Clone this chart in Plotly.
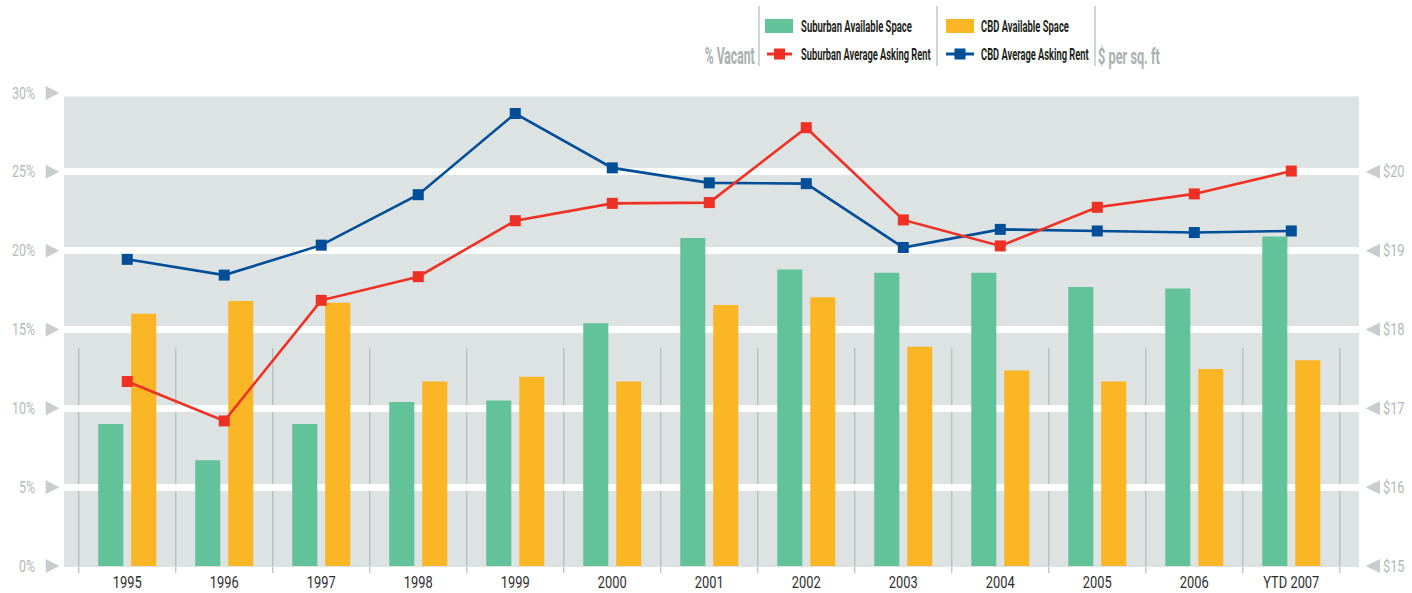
import plotly.graph_objects as go

# ---------------- data ----------------
years = ["1995", "1996", "1997", "1998", "1999", "2000", "2001",
         "2002", "2003", "2004", "2005", "2006", "YTD 2007"]
suburban_space = [9.0, 6.7, 9.0, 10.4, 10.5, 15.4, 20.8, 18.8, 18.6, 18.6, 17.7, 17.6, 20.9]
cbd_space = [16.0, 16.8, 16.7, 11.7, 12.0, 11.7, 16.55, 17.05, 13.9, 12.4, 11.7, 12.5, 13.05]
suburban_rent = [17.34, 16.84, 18.37, 18.67, 19.38, 19.60, 19.61, 20.56, 19.39, 19.06, 19.55, 19.72, 20.01]
cbd_rent = [18.89, 18.69, 19.07, 19.71, 20.74, 20.05, 19.86, 19.85, 19.04, 19.27, 19.25, 19.23, 19.25]

pct_ticks = [0, 5, 10, 15, 20, 25, 30]
pct_labels = ["0%", "5%", "10%", "15%", "20%", "25%", "30%"]
rent_ticks = [15, 16, 17, 18, 19, 20]
rent_labels = ["$15", "$16", "$17", "$18", "$19", "$20"]

series_names = ["Suburban Available Space", "CBD Available Space",
                "Suburban Average Asking Rent", "CBD Average Asking Rent"]

# ---------------- style ----------------
GREEN = "#62C39A"
ORANGE = "#FBB626"
RED = "#EE3124"
BLUE = "#004E98"
BAND = "#DDE2E2"
TICKGRAY = "#B2BAB9"
ARROW = "#C8CECD"
SEP = "#B3BAB9"
FONT = "Roboto, 'Liberation Sans', sans-serif"

W, H = 1412, 593
L, R, T, B = 64, 53, 93, 27
PW, PH = W - L - R, H - T - B
PCT_MAX = 30
RENT_MIN, RENT_MAX = 15, 21


def px(x):
    return (x - L) / PW


def py(y):
    return (H - B - y) / PH


fig = go.Figure()
fig.add_trace(go.Bar(x=years, y=suburban_space, name=series_names[0],
                     marker=dict(color=GREEN, line=dict(width=0))))
fig.add_trace(go.Bar(x=years, y=cbd_space, name=series_names[1],
                     marker=dict(color=ORANGE, line=dict(width=0))))
fig.add_trace(go.Scatter(x=years, y=cbd_rent, name=series_names[3], yaxis="y2",
                         mode="lines+markers", line=dict(color=BLUE, width=2.6),
                         marker=dict(symbol="square", size=11, color=BLUE)))
fig.add_trace(go.Scatter(x=years, y=suburban_rent, name=series_names[2], yaxis="y2",
                         mode="lines+markers", line=dict(color=RED, width=2.6),
                         marker=dict(symbol="square", size=11, color=RED)))

shapes = []
# white band separator at the top tick (grid line at the range edge)
shapes.append(dict(type="line", xref="paper", yref="y", x0=0, x1=1, y0=PCT_MAX, y1=PCT_MAX,
                   line=dict(color="white", width=7), layer="between"))
# category separators
for k in range(len(years) + 1):
    shapes.append(dict(type="line", xref="x", yref="paper", x0=k - 0.5, x1=k - 0.5,
                       y0=py(573), y1=py(348), line=dict(color=SEP, width=1.2),
                       layer="between"))
# left tick arrows
for v in pct_ticks:
    yc = v / PCT_MAX
    h = 7 / PH
    shapes.append(dict(type="path", xref="paper", yref="paper",
                       path=f"M {px(45.7)},{yc - h} L {px(59.3)},{yc} L {px(45.7)},{yc + h} Z",
                       fillcolor=ARROW, line=dict(width=0)))
# right tick arrows
for v in rent_ticks:
    yc = (v - RENT_MIN) / (RENT_MAX - RENT_MIN)
    h = 7 / PH
    shapes.append(dict(type="path", xref="paper", yref="paper",
                       path=f"M {px(1380)},{yc - h} L {px(1365.7)},{yc} L {px(1380)},{yc + h} Z",
                       fillcolor=ARROW, line=dict(width=0)))

# custom legend
for xs in (759, 937, 1095):
    shapes.append(dict(type="line", xref="paper", yref="paper", x0=px(xs), x1=px(xs),
                       y0=py(66), y1=py(6), line=dict(color=SEP, width=1.2)))
shapes.append(dict(type="rect", xref="paper", yref="paper", x0=px(765), x1=px(793),
                   y0=py(33), y1=py(19), fillcolor=GREEN, line=dict(width=0)))
shapes.append(dict(type="rect", xref="paper", yref="paper", x0=px(946), x1=px(974),
                   y0=py(33), y1=py(19), fillcolor=ORANGE, line=dict(width=0)))
for (x0, x1, col) in ((767, 792, RED), (946, 974, BLUE)):
    shapes.append(dict(type="line", xref="paper", yref="paper", x0=px(x0), x1=px(x1),
                       y0=py(54), y1=py(54), line=dict(color=col, width=3)))
    xc = (x0 + x1) / 2
    shapes.append(dict(type="rect", xref="paper", yref="paper", x0=px(xc - 5.5), x1=px(xc + 5.5),
                       y0=py(59.5), y1=py(48.5), fillcolor=col, line=dict(width=0)))

annotations = []
for (name, x, y) in ((series_names[0], 799, 27), (series_names[2], 799, 55),
                     (series_names[1], 979, 27), (series_names[3], 979, 55)):
    annotations.append(dict(xref="paper", yref="paper", x=px(x), y=py(y), text=name,
                            showarrow=False, xanchor="left", yanchor="middle",
                            font=dict(family=FONT, size=16.5, weight="bold", color="#231F20")))
annotations.append(dict(xref="paper", yref="paper", x=px(757), y=py(56), text="% Vacant",
                        showarrow=False, xanchor="right", yanchor="middle",
                        font=dict(family=FONT, size=23, weight="bold", color="#A9B1B0")))
annotations.append(dict(xref="paper", yref="paper", x=px(1096), y=py(56), text="$ per sq. ft",
                        showarrow=False, xanchor="left", yanchor="middle",
                        font=dict(family=FONT, size=23, weight="bold", color="#A9B1B0")))

fig.update_layout(
    width=W, height=H,
    margin=dict(l=L, r=R, t=T, b=B, pad=0),
    paper_bgcolor="white", plot_bgcolor=BAND,
    barmode="group", bargap=0.32, bargroupgap=0.24,
    showlegend=False,
    font=dict(family=FONT),
    shapes=shapes, annotations=annotations,
    xaxis=dict(type="category", range=[-0.652, 12.698], showgrid=False, zeroline=False,
               showline=False, ticks="", ticklabelstandoff=5, automargin=False,
               tickfont=dict(family=FONT, size=16.5, color="#2E2E2E")),
    yaxis=dict(range=[0, PCT_MAX], tickvals=pct_ticks, ticktext=pct_labels,
               showgrid=True, gridcolor="white", gridwidth=7,
               zeroline=True, zerolinecolor=BAND, zerolinewidth=1,
               showline=False, ticks="", ticklabelstandoff=28, automargin=False,
               tickfont=dict(family=FONT, size=16, color=TICKGRAY)),
    yaxis2=dict(range=[RENT_MIN, RENT_MAX], tickvals=rent_ticks, ticktext=rent_labels,
                overlaying="y", side="right", showgrid=False, zeroline=False,
                showline=False, ticks="", ticklabelstandoff=23, automargin=False,
                tickfont=dict(family=FONT, size=16, color=TICKGRAY)),
)

# condensed look: squeeze text horizontally (text stays real SVG text)
post = """
document.body.style.margin = '0px';
var gd = document.getElementById('{plot_id}');
function squeeze(el, s, mode) {
  var bb = el.getBBox();
  if (!bb.width) return;
  var ax = mode === 'left' ? bb.x : (mode === 'right' ? bb.x + bb.width : bb.x + bb.width / 2);
  var prev = el.getAttribute('transform') || '';
  el.setAttribute('transform', prev + ' translate(' + ax + ',0) scale(' + s + ',1) translate(' + (-ax) + ',0)');
}
gd.querySelectorAll('.xtick text').forEach(function(t){ squeeze(t, 0.78, 'center'); });
gd.querySelectorAll('.ytick text').forEach(function(t){ squeeze(t, 0.78, 'right'); });
gd.querySelectorAll('.y2tick text').forEach(function(t){ squeeze(t, 0.8, 'left'); });
var targets = [111, 130, 88, 108, 50, 62];
var modes = ['left', 'left', 'left', 'left', 'right', 'left'];
gd.querySelectorAll('.annotation').forEach(function(a){
  var i = +a.getAttribute('data-index');
  var t = a.querySelector('.annotation-text');
  if (!t || targets[i] === undefined) return;
  var w = t.getBBox().width;
  if (w > 0) squeeze(t, targets[i] / w, modes[i]);
});
"""

fig.write_html("out.html", post_script=post, config={"displayModeBar": False})
